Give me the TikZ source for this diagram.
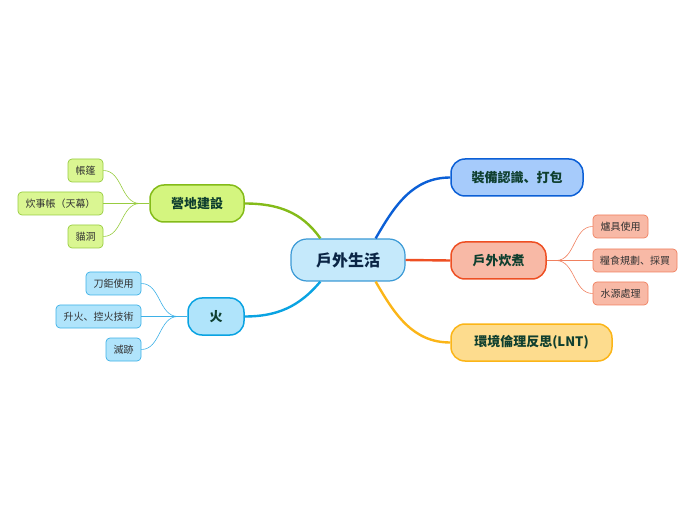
\documentclass[tikz,border=0pt]{standalone}
\usepackage{fontspec}
\setmainfont{Noto Sans CJK TC}
\newfontfamily\scpunct{Noto Sans CJK SC}
\newcommand{\dunhao}{{\scpunct 、}}
\usepackage{xcolor}
\usetikzlibrary{arrows.meta,positioning}

\definecolor{centralfill}{HTML}{C5E9FB}
\definecolor{centraldraw}{HTML}{3C9AD6}
\definecolor{centraltext}{HTML}{0B2545}
\definecolor{topictext}{HTML}{0F3F2F}
\definecolor{geardraw}{HTML}{0B5FD6}
\definecolor{gearfill}{HTML}{A6CBFB}
\definecolor{cookdraw}{HTML}{EE4F23}
\definecolor{cookfill}{HTML}{F8B9A6}
\definecolor{lntdraw}{HTML}{FBB518}
\definecolor{lntfill}{HTML}{FDDC8E}
\definecolor{campdraw}{HTML}{84BB19}
\definecolor{campfill}{HTML}{D4F57F}
\definecolor{firedraw}{HTML}{0AA3E2}
\definecolor{firefill}{HTML}{B0E4FB}
\definecolor{campleaf}{HTML}{98CC40}
\definecolor{fireleaf}{HTML}{3EB1E7}
\definecolor{cookleaf}{HTML}{F0805F}

\begin{document}
\begin{tikzpicture}[
  x=1pt,
  y=1pt,
  central/.style={draw=centraldraw, fill=centralfill, line width=1.2pt, rounded corners=16pt,
    minimum width=114pt, minimum height=42pt, font=\fontsize{16}{19}\selectfont\bfseries, text=centraltext},
  topic/.style={rounded corners=14pt, line width=1.5pt, minimum height=37pt,
    font=\fontsize{13}{15}\selectfont\bfseries, text=topictext},
  leaf/.style={rounded corners=4pt, line width=0.7pt, minimum height=23pt,
    font=\fontsize{10}{12}\selectfont, text=black!80},
  mainlink/.style={line width=2.4pt},
  leaflink/.style={line width=0.6pt}
]
  \useasboundingbox (0,0) rectangle (696,520);

  % centre and main topics
  \node[central] (life) at (348,260) {戶外生活};
  \node[topic, draw=geardraw, fill=gearfill, minimum width=132pt] (gear) at (517,342.5) {裝備認識\dunhao 打包};
  \node[topic, draw=cookdraw, fill=cookfill, minimum width=95pt] (cook) at (498.5,259.5) {戶外炊煮};
  \node[topic, draw=lntdraw, fill=lntfill, minimum width=161pt] (lnt) at (531.5,177.5) {環境倫理反思(LNT)};
  \node[topic, draw=campdraw, fill=campfill, minimum width=94pt] (camp) at (197,316.5) {營地建設};
  \node[topic, draw=firedraw, fill=firefill, minimum width=56pt] (fire) at (216,203.5) {火};

  \draw[mainlink, draw=geardraw] (life.38) to[out=60, in=180] (gear.west);
  \draw[mainlink, draw=cookdraw] (life.east) -- (cook.west);
  \draw[mainlink, draw=lntdraw] (life.-38) to[out=-60, in=180] (lnt.west);
  \draw[mainlink, draw=campdraw] (life.142) to[out=125, in=0] (camp.east);
  \draw[mainlink, draw=firedraw] (life.-142) to[out=-130, in=0] (fire.east);

  % camp leaves
  \node[leaf, draw=campleaf, fill=campfill!85!white, minimum width=35pt] (tent) at (85.5,349.5) {帳篷};
  \node[leaf, draw=campleaf, fill=campfill!85!white, minimum width=85pt] (tarp) at (60.5,316.5) {炊事帳（天幕）};
  \node[leaf, draw=campleaf, fill=campfill!85!white, minimum width=35pt] (cathole) at (85.5,283.5) {貓洞};
  \coordinate (campjoin) at (140,316.5);
  \draw[leaflink, draw=campleaf] (camp.west) -- (campjoin);
  \draw[leaflink, draw=campleaf] (campjoin) to[out=180, in=0] (tent.east);
  \draw[leaflink, draw=campleaf] (campjoin) -- (tarp.east);
  \draw[leaflink, draw=campleaf] (campjoin) to[out=180, in=0] (cathole.east);

  % fire leaves
  \node[leaf, draw=fireleaf, fill=firefill, minimum width=55pt] (saw) at (113.5,236.5) {刀鉅使用};
  \node[leaf, draw=fireleaf, fill=firefill, minimum width=85pt] (firecraft) at (98.5,203.5) {升火\dunhao 控火技術};
  \node[leaf, draw=fireleaf, fill=firefill, minimum width=35pt] (trace) at (123.5,170.5) {滅跡};
  \coordinate (firejoin) at (178,203.5);
  \draw[leaflink, draw=fireleaf] (fire.west) -- (firejoin);
  \draw[leaflink, draw=fireleaf] (firejoin) to[out=180, in=0] (saw.east);
  \draw[leaflink, draw=fireleaf] (firejoin) -- (firecraft.east);
  \draw[leaflink, draw=fireleaf] (firejoin) to[out=180, in=0] (trace.east);

  % cooking leaves
  \node[leaf, draw=cookleaf, fill=cookfill, minimum width=55pt] (stove) at (620.5,293.5) {爐具使用};
  \node[leaf, draw=cookleaf, fill=cookfill, minimum width=84pt] (food) at (635,259.5) {糧食規劃\dunhao 採買};
  \node[leaf, draw=cookleaf, fill=cookfill, minimum width=55pt] (water) at (620.5,226.5) {水源處理};
  \coordinate (cookjoin) at (556,259.5);
  \draw[leaflink, draw=cookleaf] (cook.east) -- (cookjoin);
  \draw[leaflink, draw=cookleaf] (cookjoin) to[out=0, in=180] (stove.west);
  \draw[leaflink, draw=cookleaf] (cookjoin) -- (food.west);
  \draw[leaflink, draw=cookleaf] (cookjoin) to[out=0, in=180] (water.west);
\end{tikzpicture}
\end{document}
